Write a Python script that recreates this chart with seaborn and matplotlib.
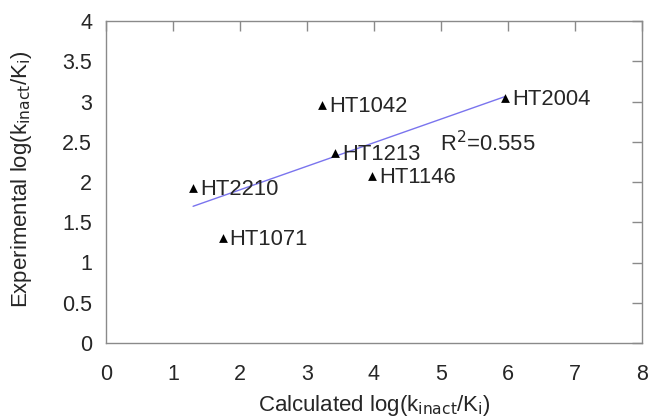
import numpy as np
import pandas as pd
import matplotlib
matplotlib.use("Agg")
import matplotlib.pyplot as plt
from matplotlib.ticker import FormatStrFormatter, MultipleLocator
import seaborn as sns

# data
compounds = ["HT2210", "HT1071", "HT1042", "HT1213", "HT1146", "HT2004"]
calc_log = [1.30, 1.74, 3.23, 3.42, 3.97, 5.96]
exp_log = [1.92, 1.30, 2.96, 2.36, 2.07, 3.04]
r2_label = "R$^2$=0.555"

df = pd.DataFrame({"compound": compounds, "calc": calc_log, "exp": exp_log})

sns.set_style("white")
plt.rcParams["font.family"] = ["Liberation Sans", "DejaVu Sans"]

fig = plt.figure(figsize=(6.51, 4.2), dpi=100)
ax = fig.add_axes([106 / 651, 1 - 343 / 420, 536 / 651, 322 / 420])

# linear fit line
slope, intercept = np.polyfit(df["calc"], df["exp"], 1)
xs = np.array([df["calc"].min(), df["calc"].max()])
ax.plot(xs, slope * xs + intercept, color="#7a74ee", lw=1.0, zorder=1)

sns.scatterplot(data=df, x="calc", y="exp", marker="^", color="black",
                s=40, edgecolor="black", linewidth=0, ax=ax, zorder=3)

for _, row in df.iterrows():
    ax.annotate(row["compound"], (row["calc"], row["exp"]),
                xytext=(5, -1), textcoords="offset points",
                va="center", ha="left", fontsize=15.8)

ax.text(4.98, 2.48, r2_label, fontsize=15.8, va="center", ha="left")

ax.set_xlim(0, 8)
ax.set_ylim(0, 4)
ax.xaxis.set_major_locator(MultipleLocator(1))
ax.yaxis.set_major_locator(MultipleLocator(0.5))
ax.yaxis.set_major_formatter(FormatStrFormatter("%g"))
ax.xaxis.set_major_formatter(FormatStrFormatter("%g"))

for sp in ax.spines.values():
    sp.set_visible(True)
    sp.set_color("#8a8a8a")
    sp.set_linewidth(1.0)

ax.tick_params(direction="in", length=7, width=1, color="#8a8a8a",
               top=True, right=True, labelsize=15.5, pad=15)
ax.tick_params(axis="y", pad=10)

ax.set_xlabel("Calculated log(k$_{\\mathrm{inact}}$/K$_\\mathrm{i}$)",
              fontsize=16, labelpad=6)
ax.set_ylabel("Experimental log(k$_{\\mathrm{inact}}$/K$_\\mathrm{i}$)",
              fontsize=16, labelpad=19)
ax.yaxis.set_label_coords(-0.135, 0.51)

fig.savefig("out.png", dpi=100)
